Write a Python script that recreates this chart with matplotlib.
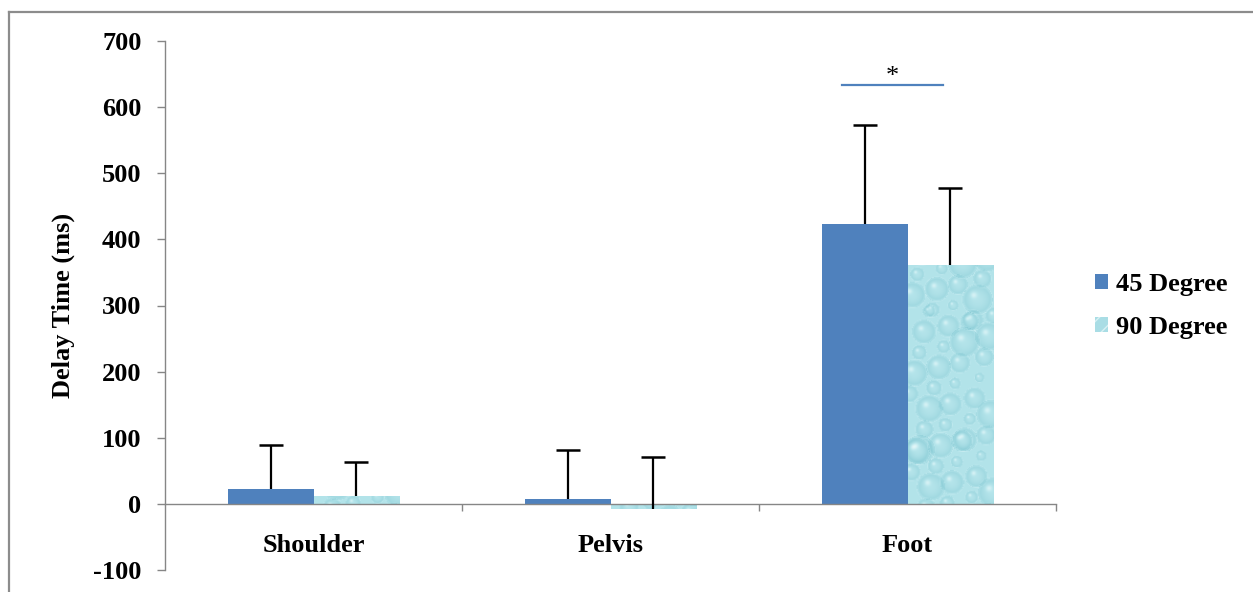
import numpy as np
import matplotlib
matplotlib.use("Agg")
import matplotlib.pyplot as plt
from matplotlib.lines import Line2D
from matplotlib.patches import Patch
from matplotlib.colors import LinearSegmentedColormap

# mean delay times and upper standard deviations (ms)
regions = ["Shoulder", "Pelvis", "Foot"]
series = ["45 Degree", "90 Degree"]
mean_45 = [22, 8, 423]
mean_90 = [12, -8, 361]
sd_45 = [67, 74, 150]
sd_90 = [51, 79, 117]
sig_pair = (1.78, 2.12)   # Foot comparison bracket
sig_level = 634

plt.rcParams["font.family"] = ["Liberation Serif", "DejaVu Serif"]
plt.rcParams["font.weight"] = "bold"
plt.rcParams["axes.unicode_minus"] = False

blue = "#4F81BD"
axis_grey = "#868686"


def droplet_texture(h=560, w=90):
    # water-drop fill built from a quasi-regular set of bubbles
    yy, xx = np.mgrid[0:h, 0:w].astype(float)
    shade = np.full((h, w), 0.38)
    for k in range(110):
        cx = (k * 0.6180339887) % 1 * w
        cy = (k * 0.7548776662) % 1 * h
        r = 5 + 11 * ((k * 0.5698402910) % 1)
        d = np.hypot(xx - cx, yy - cy) / r
        ring = np.clip(1 - np.abs(d - 0.95) / 0.12, 0, 1)
        body = np.where(d < 1, 0.25 * d ** 2, 0)
        hl = np.exp(-((xx - cx + 0.25 * r) ** 2 + (yy - cy + 0.3 * r) ** 2) / (0.05 * r * r))
        shade += body - 0.18 * ring - 0.3 * hl
    return np.clip(shade, 0, 1)


cmap = LinearSegmentedColormap.from_list("water", ["#E4F7F9", "#B8E6EC", "#94D2DB", "#6DB9C6"])

fig = plt.figure(figsize=(12.53, 5.92), dpi=100)
ax = fig.add_axes([165 / 1253, 22 / 592, 891 / 1253, 529 / 592])

x = np.arange(len(regions))
w = 0.287

b45 = ax.bar(x - w / 2, mean_45, w, color=blue, zorder=2)
b90 = ax.bar(x + w / 2, mean_90, w, color="#B3E3EA", zorder=2)

tex = droplet_texture()
for bar in b90:
    x0 = bar.get_x()
    img = ax.imshow(tex, cmap=cmap, vmin=0, vmax=1, aspect="auto",
                    extent=(x0, x0 + w, -100, 700), zorder=2.1,
                    interpolation="bilinear")
    img.set_clip_path(bar)

# upper-only error bars: hide the cap drawn at the bar end
err_kw = dict(fmt="none", ecolor="black", elinewidth=1.6, capsize=8.5,
              capthick=1.8, zorder=3)
for xs, ms, sds in [(x - w / 2, mean_45, sd_45), (x + w / 2, mean_90, sd_90)]:
    eb = ax.errorbar(xs, ms, yerr=[np.zeros(3), sds], **err_kw)
    eb[1][0].set_visible(False)

# significance bracket over Foot
ax.plot(sig_pair, [sig_level, sig_level], color=blue, lw=1.6, zorder=3)
ax.text(np.mean(sig_pair), sig_level + 3, "*", ha="center", va="baseline",
        fontsize=19, fontweight="normal")

ax.set_xlim(-0.5, 2.5)
ax.set_ylim(-100, 700)
ax.set_yticks(range(-100, 701, 100))
ax.set_xticks(x)
ax.set_xticklabels(regions)
ax.set_xticks([0.5, 1.5, 2.5], minor=True)

for s in ["top", "right"]:
    ax.spines[s].set_visible(False)
ax.spines["bottom"].set_position(("data", 0))
for s in ["left", "bottom"]:
    ax.spines[s].set_color(axis_grey)
    ax.spines[s].set_linewidth(1.0)

ax.tick_params(axis="y", direction="out", length=6, width=1.0, color=axis_grey,
               pad=11, labelsize=19)
ax.tick_params(axis="x", which="major", length=0, pad=22, labelsize=19)
ax.tick_params(axis="x", which="minor", direction="out", length=5, width=1.0,
               color=axis_grey)

ax.set_ylabel("Delay Time (ms)", fontsize=19, fontweight="bold")
ax.yaxis.set_label_coords(-0.101, 0.5)

handles = [Patch(facecolor=blue), Patch(facecolor="#A9DDE5", hatch="//", edgecolor="#D8F1F4", lw=0)]
fig.legend(handles, series, loc="center left", bbox_to_anchor=(1095 / 1253, 1 - 306 / 592),
           frameon=False, fontsize=19, handlelength=0.5, handleheight=0.5,
           handletextpad=0.3, labelspacing=0.75, borderpad=0, borderaxespad=0)

# outer chart border (left and top)
fig.add_artist(Line2D([9 / 1253, 9 / 1253], [0, 1 - 12 / 592], color="#8C8C8C", lw=1.6,
                      transform=fig.transFigure))
fig.add_artist(Line2D([9 / 1253, 1], [1 - 12 / 592, 1 - 12 / 592], color="#8C8C8C", lw=1.6,
                      transform=fig.transFigure))

fig.savefig("out.png", dpi=100)
